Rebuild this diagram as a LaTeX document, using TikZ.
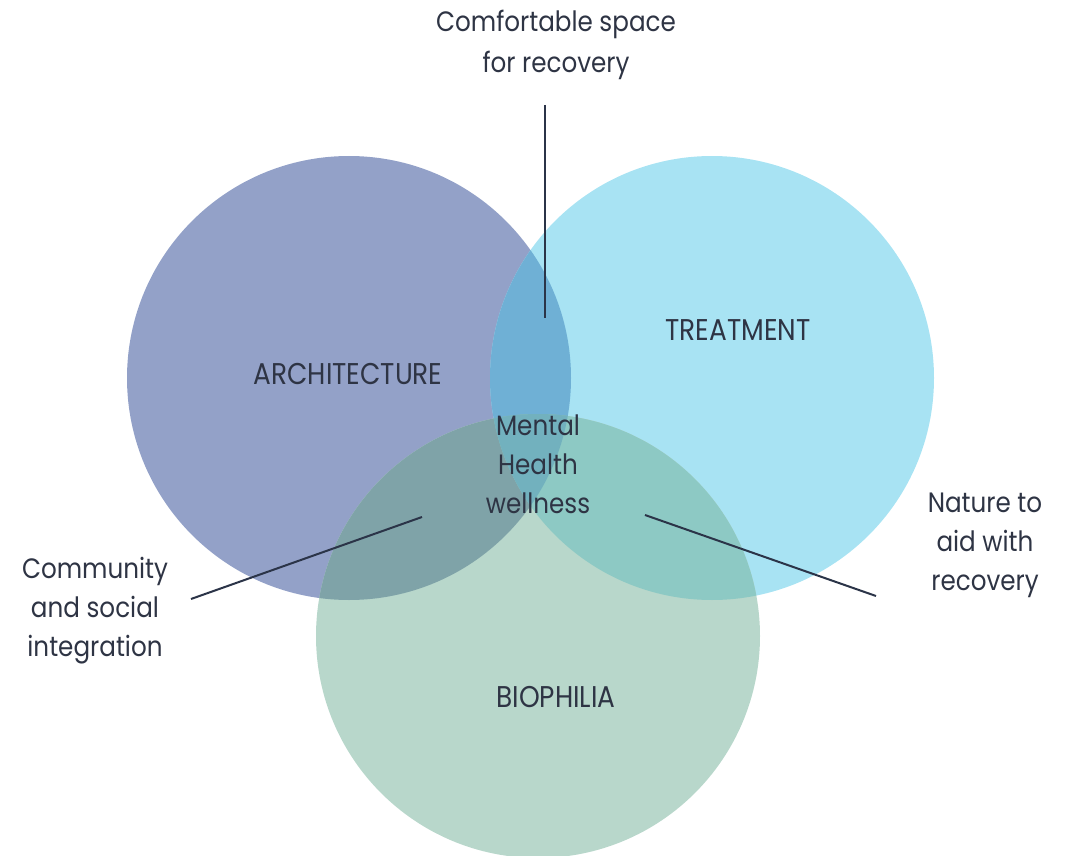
\documentclass[tikz,border=0pt]{standalone}
\usepackage{fontspec}
\setmainfont{Poppins}[FakeStretch=0.88]
\definecolor{cA}{HTML}{93A1C8}
\definecolor{cT}{HTML}{A8E3F3}
\definecolor{cB}{HTML}{B8D7CB}
\definecolor{cAT}{HTML}{6FB0D5}
\definecolor{cAB}{HTML}{7FA3A8}
\definecolor{cTB}{HTML}{8DC9C4}
\definecolor{cATB}{HTML}{72B1BE}
\definecolor{ink}{HTML}{2E3444}
\definecolor{lineink}{HTML}{2B3448}
\tikzset{
  lbl/.style={text=ink, font=\fontsize{28}{39}\selectfont, align=center, inner sep=0pt},
  caps/.style={text=ink, font=\fontsize{30}{36}\selectfont, inner sep=0pt},
  conn/.style={draw=lineink, line width=2pt}
}
\begin{document}
\begin{tikzpicture}[x=1pt,y=-1pt]
\useasboundingbox (0,0) rectangle (1069,856);
\coordinate (A) at (349,378);
\coordinate (T) at (712,378);
\coordinate (B) at (538,636);
\def\R{222pt}
\fill[cA] (A) circle[radius=\R];
\fill[cT] (T) circle[radius=\R];
\fill[cB] (B) circle[radius=\R];
\begin{scope}\clip (A) circle[radius=\R]; \fill[cAT] (T) circle[radius=\R];\end{scope}
\begin{scope}\clip (A) circle[radius=\R]; \fill[cAB] (B) circle[radius=\R];\end{scope}
\begin{scope}\clip (T) circle[radius=\R]; \fill[cTB] (B) circle[radius=\R];\end{scope}
\begin{scope}\clip (A) circle[radius=\R]; \clip (T) circle[radius=\R]; \fill[cATB] (B) circle[radius=\R];\end{scope}

\node[caps] (arch) at (348,374) {ARCHITECTURE};
\node[caps] (treat) at (738,330) {TREATMENT};
\node[caps] (bio) at (556,697) {BIOPHILIA};
\node[lbl] (mh) at (538,464) {Mental\\Health\\wellness};
\node[lbl, font=\fontsize{28}{41}\selectfont] (comf) at (556,45) {Comfortable space\\for recovery};
\node[lbl] (comm) at (95,611) {Community\\and social\\integration};
\node[lbl] (nat) at (985,545) {Nature to\\aid with\\recovery};

\coordinate (v1) at (545,105);
\coordinate (v2) at (545,318);
\coordinate (l1) at (422,517);
\coordinate (l2) at (191,599);
\coordinate (r1) at (645,515);
\coordinate (r2) at (876,596);
\draw[conn] (v1) -- (v2);
\draw[conn] (l1) -- (l2);
\draw[conn] (r1) -- (r2);
\end{tikzpicture}
\end{document}
